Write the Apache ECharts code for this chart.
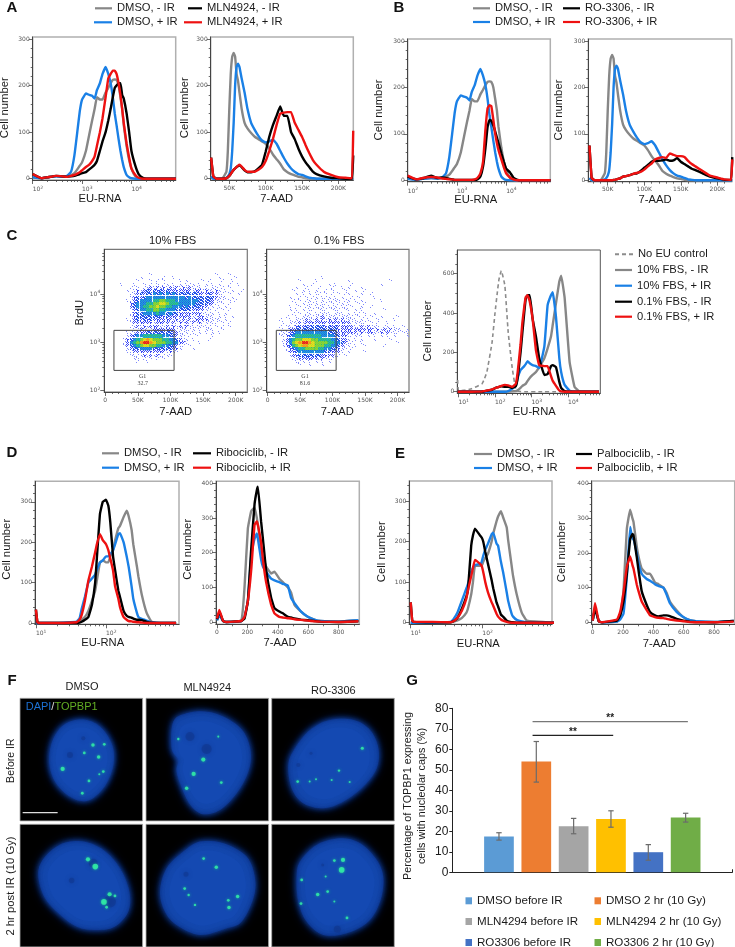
<!DOCTYPE html>
<html><head><meta charset="utf-8">
<style>html,body{margin:0;padding:0;background:#fff}#c{width:735px;height:947px}</style>
<script src="https://cdn.jsdelivr.net/npm/echarts@6/dist/echarts.min.js"></script>
</head><body><div id="c"></div>
<script>
// ---------- shared x values ----------
const euX = [100,150,200,300,400,500,600,700,800,900,1000,1200,1400,1600,1800,2000,2300,2600,3000,3400,3800,4200,4600,5000,5500,6000,6500,7000,8000,9000,10000,12000,14000,17000,20000,30000,80000];
const aadX = [25,28,32,40,46,48,50,52,54,56,58,60,62,64,67,71,75,80,85,90,95,100,105,110,115,120,125,130,135,140,145,150,155,160,165,170,180,190,200,210,217,219,220.5];
const euC = [9.5,10,14,23,44,50,60,83,100,115,128,149,186,230,296,370,417,500,560,630,690,780,890,1070,1320,1620,2240,2750,3400,3800,4660,5750,6450,8000,11000,15000,20000,70000];
const euD = [10,10.5,11,20,38,42,45,50,56,63,70,74,82,90,100,108,115,126,135,150,158,178,197,210,232,245,276,290,324,380,447,600,1000];
const euE = [10,10.5,11,20,36,40,45,52,60,63,70,74,79,93,98,103,110,120,135,142,158,166,182,195,219,229,257,269,302,355,420,1000];
const aadD = [0,15,40,60,160,181,203,225,247,262,269,290,302,323,356,378,410,433,466,487,509,553,597,640,680,800,930];

// ---------- panel A and B ----------
const euGrey = [3,1,3,5,4,5,8,12,20,28,35,60,95,125,150,175,170,170,185,195,205,212,213,212,200,175,150,115,70,40,22,5,1,0,0,0,0];
const euBlue = [3,1,3,5,4,6,15,50,100,145,170,183,180,178,172,190,205,225,240,225,205,175,140,115,85,60,40,25,8,3,1,0,0,0,0,0,0];
const aEuBlack = [10,1,3,6,5,4,5,6,8,10,12,14,20,25,30,38,60,80,100,125,150,175,195,200,205,205,180,172,140,100,60,28,10,2,0,0,0];
const aEuRed = [10,1,3,6,5,4,6,8,11,14,18,25,30,38,48,70,100,130,175,215,225,232,232,225,205,180,150,120,75,45,22,8,2,0,0,0,0];
const bEuBlack = [8,2,4,10,5,6,5,3,2,1,1,1,1,1,1,1,1,2,8,30,70,115,130,128,118,105,92,80,58,40,25,17,6,1,0,0,0];
const bEuRed = [10,2,5,7,6,4,3,2,2,1,1,1,1,1,1,1,2,5,15,40,110,155,162,160,130,100,80,65,45,28,15,6,2,0,0,0,0];
const aadGrey = [5,0,0,0,15,60,150,225,262,270,262,225,210,185,150,120,108,98,90,85,80,75,65,52,42,32,20,14,10,7,4,3,1,0,0,0,0,0,0,0,0,0,0];
const aadBlue = [5,0,0,0,2,5,10,22,60,120,200,240,247,240,215,185,150,120,105,92,82,78,80,84,75,60,45,32,22,15,10,8,5,2,1,0,0,0,0,0,0,0,0];
const aAadBlack = [45,5,0,0,1,3,6,10,15,19,22,25,27,28,25,18,14,14,16,22,30,58,90,115,135,155,135,135,100,85,65,48,35,25,15,10,5,2,1,0,0,0,50];
const aAadRed = [45,5,0,0,1,3,6,10,15,19,22,25,28,30,26,19,15,15,15,19,25,38,60,85,115,140,142,143,143,120,105,90,72,55,40,30,15,8,3,2,1,1,103];
const bAadBlack = [75,5,0,0,0,0,0,0,0,0,1,1,2,3,4,8,9,11,14,15,20,27,33,40,42,42,43,45,42,43,48,40,35,30,25,22,15,8,4,1,1,1,50];
const bAadRed = [75,5,0,0,0,0,0,0,0,0,1,1,2,3,4,8,9,11,14,16,18,23,30,36,45,48,50,48,58,55,52,52,50,42,35,30,20,10,6,2,1,1,45];

// ---------- panel C histogram ----------
const cNoEU = [60,5,7,15,40,60,100,250,400,500,570,615,540,300,120,10,4,1,0,0,0,0,0,0,0,0,0,0,0,0,0,0,0,0,0,0,0,0];
const cGrey = [0,0,0,0,0,0,0,0,0,0,0,0,0,1,2,3,8,20,30,35,40,55,70,85,100,125,170,220,280,340,450,560,590,480,150,25,3,0];
const cBlue = [0,0,0,0,0,0,0,0,0,0,0,0,0,3,15,30,70,110,120,130,140,155,145,135,130,120,230,440,490,505,380,170,100,35,5,1,0,0];
const cBlack = [0,0,0,0,1,2,5,10,18,22,25,27,25,25,20,28,70,200,300,400,470,490,490,370,280,170,85,90,130,135,125,50,20,3,0,0,0,0];
const cRed = [0,0,0,0,1,3,6,12,18,22,25,30,35,32,25,40,100,240,350,430,480,490,460,370,210,135,130,130,80,55,30,6,2,0,0,0,0,0];

// ---------- panel C pseudocolour density, digit = local density (one row per 1/15 decade of BrdU, one column per 5K of 7-AAD) ----------
const density10 = [
"00000000000000000000000000000000000000000000",
"00000000000000000000000000000000000000000000",
"00000000000000000000000000000000000000000000",
"00000000000000100000000000000000001000100000",
"00000000000100000010010000000000000100001000",
"00000000001000101010000101000010100010010000",
"00000100010010101011010101110101010100100100",
"00000000101011212121212121211101011010100000",
"00000001012123232323222222212212112101010010",
"00000000112323343434343333333222322110100100",
"00000000123234444444444443433333332111010000",
"00000001123444455665554444444333321110101000",
"00000000234445566776555444443333221010100000",
"00000000234455667665544434333322110101000000",
"00000000123445566554443333322221101010100000",
"00000000123344445443433222222211110101000000",
"00000000123333333323222222211221110101010000",
"00000001123232322222212121212222111101000000",
"00000000122222212222121212121211111010100000",
"00000000112121222112121212111111101010100000",
"00000000011211122222221111110101110010000000",
"00000001112223333333322111010101010100000000",
"00000001234455555544332110101000010000000000",
"00000012345678766655443211010000100000000000",
"00000012456899876665544221000100000000000000",
"00000012345677665544332110100000000000000000",
"00000001233444433333322100010000000000000000",
"00000001122222222221211000000000000000000000",
"00000000111121212111100000000000000000000000",
"00000000011010101010000000000000000000000000",
"00000000001001000000000000000000000000000000"];
const density01 = [
"00000000000000000000000000000000000000000000",
"00000000000000000000000000000000000000000000",
"00000000000000000000000000000000000000000000",
"00000000000000000000000000000000000000000000",
"00000000000000000100000000000000000000000000",
"00000000001000010000000001000000000000100000",
"00000000000100100001010000100000000100000000",
"00000000010010001000100101000100000000000000",
"00000000100101010010100010010010000000000000",
"00000000010101011010101011000100100000000000",
"00000001001010110111010100101000010000000000",
"00000000101011010101111011010100000100000000",
"00000000010101110110101101001010000000000000",
"00000001001011011101110110100100100000000000",
"00000001010101101110111011010100000010000000",
"00000000101011011111011101011010010000000000",
"00000010010111111211111111101010100100001000",
"00001001011121121212121211110101001000010000",
"00000101112122222222222222111110101001000000",
"00001011123232333323232222211212111011010010",
"00000112233333333333332222222222212121211101",
"00001112344444444443332222221212211212111011",
"00001123455555555444433221111101010101010001",
"00000124566777665555443221010100010000100000",
"00000124678998766665544321100100000000001000",
"00000123567887766655443211010010000010000000",
"00000012345566665544332110100000000000000000",
"00000012234444444433222101000010000000000000",
"00000001223333333222211010000000000000000000",
"00000000112222221211100000000000000000000000",
"00000000011101010101000000000000000000000000",
"00000000001001000100000000000000000000000000"];
const gateBox = [13.3, 263, 105.5, 1770];

// ---------- panel D ----------
const dEuGrey = [0,0,0,0,0,3,8,15,30,55,80,105,150,155,150,150,165,180,205,235,240,262,278,265,230,195,140,115,70,25,3,0,0];
const dEuBlue = [0,0,0,0,3,12,35,65,100,110,120,132,150,155,165,165,170,180,195,220,222,200,165,140,90,60,25,15,10,6,2,0,0];
const dEuBlack = [33,2,0,0,0,1,3,8,15,45,100,160,270,300,305,290,250,165,130,80,65,30,18,15,13,11,8,8,7,3,1,0,0];
const dEuRed = [33,2,0,0,2,8,20,55,105,140,175,195,220,205,195,180,160,130,90,60,40,15,8,5,4,3,2,2,1,0,0,0,0];
const dAadGrey = [5,20,3,0,5,100,270,320,330,300,280,215,190,160,140,145,125,115,100,85,50,30,15,7,3,1,5];
const dAadBlue = [5,20,3,0,2,15,60,190,240,255,240,180,160,145,125,120,115,110,105,70,55,30,15,7,3,1,5];
const dAadBlack = [8,30,3,0,3,10,60,210,340,380,390,290,240,150,70,40,30,25,15,13,10,7,5,3,1,0,2];
const dAadRed = [10,35,3,0,3,15,60,150,280,290,280,230,180,115,50,25,15,13,11,10,8,6,4,2,1,0,2];

// ---------- panel E ----------
const eEuGrey = [0,0,0,0,1,3,6,12,25,35,70,100,140,140,140,150,160,170,200,220,250,262,275,260,235,205,140,115,70,25,5,0];
const eEuBlue = [0,0,0,0,2,10,25,55,85,95,125,135,142,145,150,165,180,195,218,222,195,190,150,125,75,55,22,15,7,3,1,0];
const eEuBlack = [50,5,2,1,1,4,12,35,65,80,190,215,232,215,210,200,175,145,105,85,50,40,20,15,5,3,1,1,0,0,0,0];
const eEuRed = [50,5,2,2,1,4,12,30,60,80,115,135,155,145,140,125,100,75,50,42,22,15,8,5,2,1,0,0,0,0,0,0];
const eAadGrey = [5,40,3,0,2,15,90,270,325,300,290,220,190,155,140,140,115,110,100,85,60,35,15,6,3,1,4];
const eAadBlue = [5,40,3,0,2,8,25,130,275,240,240,200,170,140,125,120,110,105,100,80,55,30,15,6,3,1,4];
const eAadBlack = [5,40,3,0,5,20,60,140,240,255,250,190,150,90,50,30,20,17,20,20,18,10,5,2,1,0,4];
const eAadRed = [5,55,3,0,8,30,85,160,190,165,155,110,90,60,35,20,15,13,12,10,8,5,3,1,0,0,2];

// ---------- panel G ----------
const capNames = ['DMSO before IR','DMSO 2 hr (10 Gy)','MLN4294 before IR','MLN4294 2 hr (10 Gy)','RO3306 before IR','RO3306 2 hr (10 Gy)'];
const capValues = [17.5,54,22.5,26,9.8,26.7];
const capLow = [15.7,44,18.8,22,5.9,24.5];
const capHigh = [19.3,63.8,26.3,30,13.5,28.8];
const capColors = ['#5b9bd5','#ed7d31','#a5a5a5','#ffc000','#4472c4','#70ad47'];
const capBrackets = [[2.15,4.31,66.8,'#222'],[2.15,6.31,73.5,'#777']];

// ---------- panel F: nucleus outlines, foci and nucleoli in image units (0-368) ----------
const imgNuclei = [
 [[155,68],[200,65],[240,85],[270,125],[282,170],[275,220],[250,270],[210,305],[170,305],[130,280],[100,240],[88,190],[95,135],[120,90]],
 [[82,70],[122,45],[182,40],[242,60],[292,100],[314,160],[307,220],[272,285],[222,335],[172,348],[137,325],[112,280],[92,220],[97,185],[77,150]],
 [[50,200],[70,150],[115,95],[175,65],[245,65],[295,95],[320,150],[315,210],[275,265],[215,310],[155,330],[95,315],[60,270]],
 [[55,142],[80,92],[130,57],[190,52],[250,77],[300,132],[328,202],[325,262],[285,307],[230,317],[170,307],[110,262],[70,212]],
 [[42,202],[62,132],[112,82],[162,52],[232,57],[302,97],[327,162],[322,222],[287,292],[242,312],[162,332],[92,302],[57,262]],
 [[75,162],[85,112],[135,62],[205,42],[265,57],[315,107],[335,162],[325,232],[290,292],[225,327],[155,332],[105,292],[80,232]]];
const imgFoci = [
 [[219,140,4],[253,138,3],[193,164,3],[236,176,4],[128,212,5],[250,220,3],[238,228,2],[207,248,3],[187,285,3]],
 [[97,122,2.5],[217,115,2],[172,184,5],[143,227,5],[122,270,4],[226,253,3]],
 [[272,150,3.5],[202,217,2.5],[78,250,3],[114,250,2],[133,243,2],[180,245,2],[234,251,2]],
 [[204,105,5],[226,127,7],[269,210,5],[285,215,3],[252,233,7],[260,249,3]],
 [[173,103,3],[211,129,4],[116,193,3],[128,212,2.5],[147,242,2.5],[247,228,3],[275,217,4],[249,250,4]],
 [[188,109,3],[214,107,5],[210,137,7],[90,167,3],[162,157,2],[138,211,4],[168,202,3],[88,238,3],[188,232,2],[226,281,3]]];
const imgHoles = [
 [[150,170,12],[190,120,8]],
 [[182,152,20],[132,115,18]],
 [[118,165,6],[80,200,8]],
 [[220,117,18],[270,232,24],[155,169,11]],
 [[120,150,10]],
 [[153,122,6],[197,315,14]]];

// ---------- tick lists ----------
const kMajor=[50,100,150,200], kMinor=[30,40,60,70,80,90,110,120,130,140,160,170,180,190,210];
const kMajor0=[0,50,100,150,200], kMinor0=[10,20,30,40,60,70,80,90,110,120,130,140,160,170,180,190,210];
const logMinors=[20,30,40,50,60,70,80,90,200,300,400,500,600,700,800,900,2000,3000,4000,5000,6000,7000,8000,9000,20000,30000,40000,50000,60000,70000];
const GREY='#878787',BLUE='#1a80e6',BLACK='#000',RED='#ee1111';
const FF='"Liberation Sans",Arial,sans-serif', TF='"DejaVu Sans",sans-serif';

const grids=[],xAxes=[],yAxes=[],series=[],legends=[],graphics=[];
const kFmt=v=>v===0?'0':v+'K';
const supRich={a:{fontSize:6,color:'#555',fontFamily:TF},s:{fontSize:4.5,color:'#555',fontFamily:TF,padding:[0,0,4,0]}};
const pow10Fmt=v=>'{a|10}{s|'+Math.round(Math.log10(v))+'}';

function addPlot(b,xc,yc,border,borderW){
  const gi=grids.length;
  grids.push({show:true,left:b[0],top:b[2],width:b[1]-b[0],height:b[3]-b[2],borderColor:border||'#b0b0b0',borderWidth:borderW||1.5,backgroundColor:'transparent'});
  const lineCol='#444';
  const ax=(c,labels)=>({
    gridIndex:gi,type:c.type||'value',min:c.min,max:c.max,scale:true,silent:true,
    axisLine:{show:labels,onZero:false,lineStyle:{color:lineCol,width:1}},
    splitLine:{show:false},minorSplitLine:{show:false},
    axisTick:{show:true,inside:false,length:labels?4:2,customValues:labels?c.major:c.minor,lineStyle:{color:lineCol,width:.8}},
    axisLabel:labels?{show:true,customValues:c.major,hideOverlap:false,showMinLabel:true,showMaxLabel:true,fontSize:6,color:'#555',fontFamily:TF,margin:c.margin||3,align:c.align,formatter:c.fmt,rich:supRich}:{show:false}
  });
  const xi=xAxes.length,yi=yAxes.length;
  xAxes.push(Object.assign(ax(xc,true),{position:'bottom'}),Object.assign(ax(xc,false),{position:'bottom'}));
  yAxes.push(Object.assign(ax(yc,true),{position:'left'}),Object.assign(ax(yc,false),{position:'left'}));
  return {xi,yi};
}
function addLines(ax,xs,curves){
  curves.forEach(c=>{
    series.push({type:'line',name:c[0],xAxisIndex:ax.xi,yAxisIndex:ax.yi,symbol:'none',showSymbol:false,smooth:.1,clip:true,z:3,
      itemStyle:{color:c[1]},lineStyle:{color:c[1],width:c[3]?1.6:2.4,type:c[3]||'solid'},
      data:xs.map((x,i)=>[x,c[2][i]])});
  });
}
function yCfg(min,max,major,step){
  const minor=[];for(let v=step;v<max;v+=step){if(!major.includes(v))minor.push(v);}
  return {min,max,major,minor,margin:3,fmt:v=>String(v)};
}
function logX(min,max,major){return {type:'log',min,max,major,minor:logMinors,fmt:pow10Fmt,align:'left',margin:5};}
function kX(min,max){return {min,max,major:kMajor,minor:kMinor,fmt:kFmt,margin:5};}
const dashIcon='path://M0,0h4v2h-4zM7,0h4v2h-4zM14,0h4v2h-4z';
function leg(name,left,y,w,icon){
  legends.push({show:true,selectedMode:false,left,top:y-6.5,padding:0,itemWidth:w,itemHeight:2.2,icon:icon||'rect',data:[name],
    textStyle:{fontSize:11.2,color:'#1a1a1a',fontFamily:FF,lineHeight:13}});
}
function txt(text,x,y,o){
  o=o||{};
  graphics.push({type:'text',x,y,rotation:o.rot?Math.PI/2:0,silent:true,z:50,style:{text,align:o.align||'center',verticalAlign:'middle',
    fontSize:o.size||11.5,fontFamily:o.font||FF,fontWeight:o.weight||'normal',fill:o.color||'#1a1a1a',rich:o.rich}});
}
const cell='Cell number';

// Panel A
const mA=['MLN4924, - IR','MLN4924, + IR'];
let p=addPlot([32.7,175.7,37,180],logX(100,79000,[100,1000,10000]),yCfg(-2.8,304.3,[0,100,200,300],20));
addLines(p,euX,[['DMSO, - IR',GREY,euGrey],['DMSO, + IR',BLUE,euBlue],[mA[0],BLACK,aEuBlack],[mA[1],RED,aEuRed]]);
p=addPlot([210.7,353.3,37,180],kX(24.4,220.6),yCfg(-2.8,304.3,[0,100,200,300],20));
addLines(p,aadX,[['DMSO, - IR',GREY,aadGrey],['DMSO, + IR',BLUE,aadBlue],[mA[0],BLACK,aAadBlack],[mA[1],RED,aAadRed]]);
leg('DMSO, - IR',95,8.3,17);leg('DMSO, + IR',94,22.3,18);leg(mA[0],188,8.3,14);leg(mA[1],184,22.3,18);
// Panel B
const mB=['RO-3306, - IR','RO-3306, + IR'];
p=addPlot([407.7,550.3,39,181.7],logX(100,79000,[100,1000,10000]),yCfg(-3,304.3,[0,100,200,300],20));
addLines(p,euX,[['DMSO, - IR',GREY,euGrey],['DMSO, + IR',BLUE,euBlue],[mB[0],BLACK,bEuBlack],[mB[1],RED,bEuRed]]);
p=addPlot([588.3,731.7,39,181.7],kX(23.4,219.7),yCfg(-3,304.3,[0,100,200,300],20));
addLines(p,aadX,[['DMSO, - IR',GREY,aadGrey],['DMSO, + IR',BLUE,aadBlue],[mB[0],BLACK,bAadBlack],[mB[1],RED,bAadRed]]);
leg('DMSO, - IR',473,8.3,17);leg('DMSO, + IR',473,22,17);leg(mB[0],563,8.3,17);leg(mB[1],563,22,17);

// Panel C density plots: each digit cell is stippled with a fixed mask; high digits are a mix with the digit below
const densCol=[null,'#7f88fb','#3a46f5','#2452ea','#20a8d8','#30c070','#93d42e','#e9dc1e','#f29422','#e81f1f'];
const stipple={
 1:[[[0,0],[2,1]],[[1,2],[0,0]],[[2,0],[0,2]],[[1,1],[2,2]]],
 2:[[[0,0],[2,0],[1,1],[0,2]],[[1,0],[0,1],[2,1],[1,2]],[[0,0],[1,1],[2,1],[1,2]]],
 3:[[[0,0],[2,0],[0,1],[1,1],[1,2],[2,2]],[[1,0],[2,0],[0,1],[2,1],[0,2],[1,2]]]
};
const mix=[[0,0],[2,0],[1,1],[0,2],[2,2]], mix2=[[1,0],[0,1],[2,1],[1,2]];
function densitySeries(ax,rows){
  const data=[];
  rows.forEach((row,r)=>{const lc=4.6-r/15;
    for(let c=0;c<row.length;c++){const d=+row[c];
      if(d>0)data.push([c*5-2.5,Math.pow(10,lc+1/30),c*5+2.5,Math.pow(10,lc-1/30),d,r,c]);}
  });
  series.push({type:'custom',xAxisIndex:ax.xi,yAxisIndex:ax.yi,clip:true,silent:true,progressive:0,z:2,
    encode:{x:[0,2],y:[1,3]},data,
    renderItem(params,api){
      const a=api.coord([api.value(0),api.value(1)]),b=api.coord([api.value(2),api.value(3)]);
      const d=api.value(4),x0=Math.round(a[0]),y0=Math.round(a[1]);
      if(d>=4){
        const m=(api.value(5)+api.value(6))%2?mix:mix2;
        return {type:'group',children:[
          {type:'rect',shape:{x:x0,y:y0,width:d===4?3:4,height:d===4?3:4},style:{fill:densCol[d-1]}},
          ...m.map(q=>({type:'rect',shape:{x:x0+q[0],y:y0+q[1],width:d>=6?1.6:1.2,height:d>=6?1.6:1.2},style:{fill:densCol[d]}}))]};
      }
      const set=stipple[d],m=set[(api.value(5)*2+api.value(6))%set.length];
      return {type:'group',children:m.map(q=>({type:'rect',shape:{x:x0+q[0],y:y0+q[1],width:1,height:1},style:{fill:densCol[d]}}))};
    }});
  series.push({type:'custom',xAxisIndex:ax.xi,yAxisIndex:ax.yi,silent:true,z:4,encode:{x:[0,2],y:[1,3]},data:[gateBox],
    renderItem(params,api){
      const a=api.coord([api.value(0),api.value(1)]),b=api.coord([api.value(2),api.value(3)]);
      return {type:'rect',shape:{x:a[0],y:b[1],width:b[0]-a[0],height:a[1]-b[1]},style:{fill:'none',stroke:'#444',lineWidth:1}};
    }});
}
const cY={type:'log',min:94,max:84000,major:[100,1000,10000],minor:logMinors,fmt:pow10Fmt,margin:4};
const cX={min:-1.5,max:217.8,major:kMajor0,minor:kMinor0,fmt:kFmt,margin:5};
p=addPlot([104.3,247.3,249.3,392],cX,cY,'#777',1.2);densitySeries(p,density10);
p=addPlot([266.7,409,249.3,392],cX,cY,'#777',1.2);densitySeries(p,density01);
// Panel C histogram
const fbs=['No EU control','10% FBS, - IR','10% FBS, + IR','0.1% FBS, - IR','0.1% FBS, + IR'];
p=addPlot([457.3,600.3,250,393.3],logX(9.3,76000,[10,100,1000,10000]),yCfg(-8,720,[0,200,400,600],50),'#555',1);
addLines(p,euC,[[fbs[0],'#8c8c8c',cNoEU,[4,3]],[fbs[1],GREY,cGrey],[fbs[2],BLUE,cBlue],[fbs[3],BLACK,cBlack],[fbs[4],RED,cRed]]);
leg(fbs[0],615,254.3,18,dashIcon);leg(fbs[1],615,270,17);leg(fbs[2],615,285.7,17);leg(fbs[3],615,301.7,17);leg(fbs[4],615,316.7,17);

// Panel D
const mD=['Ribociclib, - IR','Ribociclib, + IR'];
const aX800={min:-6.6,max:936,major:[0,200,400,600,800],minor:[100,300,500,700,900],fmt:v=>String(v),margin:5};
p=addPlot([35,179,481.3,624.3],logX(9.7,1100,[10,100]),yCfg(-3.2,350.7,[0,100,200,300],20));
addLines(p,euD,[['DMSO, - IR',GREY,dEuGrey],['DMSO, + IR',BLUE,dEuBlue],[mD[0],BLACK,dEuBlack],[mD[1],RED,dEuRed]]);
p=addPlot([216,359.3,481.3,624.3],aX800,yCfg(-6.6,405.7,[0,100,200,300,400],20));
addLines(p,aadD,[['DMSO, - IR',GREY,dAadGrey],['DMSO, + IR',BLUE,dAadBlue],[mD[0],BLACK,dAadBlack],[mD[1],RED,dAadRed]]);
leg('DMSO, - IR',102,453.3,17);leg('DMSO, + IR',102,467.7,17);leg(mD[0],193,453.3,18);leg(mD[1],193,467.7,18);
// Panel E
const mE=['Palbociclib, - IR','Palbociclib, + IR'];
p=addPlot([409.3,552,481,624.3],logX(9.56,940,[10,100]),yCfg(-3.9,349.3,[0,100,200,300],20));
addLines(p,euE,[['DMSO, - IR',GREY,eEuGrey],['DMSO, + IR',BLUE,eEuBlue],[mE[0],BLACK,eEuBlack],[mE[1],RED,eEuRed]]);
p=addPlot([591.7,734.7,481,624.3],aX800,yCfg(-5.8,407.8,[0,100,200,300,400],20));
addLines(p,aadD,[['DMSO, - IR',GREY,eAadGrey],['DMSO, + IR',BLUE,eAadBlue],[mE[0],BLACK,eAadBlack],[mE[1],RED,eAadRed]]);
leg('DMSO, - IR',474,454,18);leg('DMSO, + IR',474,468,18);leg(mE[0],576,454,16);leg(mE[1],576,468,16);

// Panel F images: outline is rounded with a closed Catmull-Rom spline and drawn in soft layers
function roundOutline(pts,scale){
  const n=pts.length,cx=pts.reduce((s,q)=>s+q[0],0)/n,cy=pts.reduce((s,q)=>s+q[1],0)/n,out=[];
  const P=pts.map(q=>[cx+(q[0]-cx)*scale,cy+(q[1]-cy)*scale]);
  for(let i=0;i<n;i++){
    const a=P[(i+n-1)%n],b=P[i],c=P[(i+1)%n],d=P[(i+2)%n];
    for(let k=0;k<8;k++){const t=k/8,t2=t*t,t3=t2*t;
      const f=j=>.5*(2*b[j]+(c[j]-a[j])*t+(2*a[j]-5*b[j]+4*c[j]-d[j])*t2+(3*b[j]-a[j]-3*c[j]+d[j])*t3);
      out.push([f(0),f(1)]);}
  }
  return out;
}
const nucleusLayers=[[1,'#0f3486',10],[.975,'#113c96',7],[.95,'#1242a2',6],[.9,'#1346aa',6],[.8,'#1449b2',8]];
const imgX=[20,146,271.7], imgY=[698.3,824.3];
imgNuclei.forEach((outline,i)=>{
  const gi=grids.length,col=i%3,row=Math.floor(i/3);
  grids.push({show:true,left:imgX[col],top:imgY[row],width:122.6,height:122.6,backgroundColor:'#000',borderColor:'#aaa',borderWidth:.8});
  xAxes.push({gridIndex:gi,type:'value',min:0,max:368,show:false});
  yAxes.push({gridIndex:gi,type:'value',min:0,max:368,inverse:true,show:false});
  series.push({type:'custom',xAxisIndex:xAxes.length-1,yAxisIndex:yAxes.length-1,silent:true,clip:true,z:2,encode:{x:0,y:1},data:outline,
    renderItem(params,api){
      if(params.dataIndex!==0)return null;
      return {type:'group',children:nucleusLayers.map(l=>({type:'polygon',shape:{points:roundOutline(outline,l[0]).map(q=>api.coord(q))},
        style:{fill:l[1],shadowBlur:l[2],shadowColor:l[1]}}))};
    }});
  series.push({type:'scatter',xAxisIndex:xAxes.length-1,yAxisIndex:yAxes.length-1,silent:true,z:3,symbol:'circle',
    symbolSize:d=>d[2]*.5,itemStyle:{color:'#0f3288',opacity:.45,shadowBlur:4,shadowColor:'#0f3288'},data:imgHoles[i]});
  series.push({type:'scatter',xAxisIndex:xAxes.length-1,yAxisIndex:yAxes.length-1,silent:true,z:4,symbol:'circle',
    symbolSize:d=>d[2]*.72+.6,itemStyle:{color:'#35f5a8',shadowBlur:3,shadowColor:'#1fd890'},data:imgFoci[i]});
  if(i===0){
    series.push({type:'custom',xAxisIndex:xAxes.length-1,yAxisIndex:yAxes.length-1,silent:true,z:5,encode:{x:0,y:1},data:[[8,343,113]],
      renderItem(params,api){const a=api.coord([api.value(0),api.value(1)]),b=api.coord([api.value(2),api.value(1)]);
        return {type:'line',shape:{x1:a[0],y1:a[1],x2:b[0],y2:b[1]},style:{stroke:'#ddd',lineWidth:1.2}};}});
  }
});

// Panel G
(function(){
  const gi=grids.length;
  grids.push({show:false,left:452.3,top:708.3,width:280,height:164});
  xAxes.push({gridIndex:gi,type:'value',min:0,max:7.5,axisLine:{lineStyle:{color:'#222',width:1.2}},splitLine:{show:false},
    axisTick:{show:true,inside:true,length:3,customValues:[0,7.5],lineStyle:{color:'#222'}},axisLabel:{show:false}});
  yAxes.push({gridIndex:gi,type:'value',min:0,max:80,interval:10,axisLine:{show:true,lineStyle:{color:'#222',width:1}},splitLine:{show:false},
    axisTick:{show:true,length:3,lineStyle:{color:'#222'}},axisLabel:{fontSize:12,color:'#1a1a1a',fontFamily:FF,margin:4}});
  const xi=xAxes.length-1,yi=yAxes.length-1;
  capNames.forEach((n,i)=>{
    series.push({type:'bar',name:n,xAxisIndex:xi,yAxisIndex:yi,barWidth:29.7,barGap:'-100%',itemStyle:{color:capColors[i]},data:[[1.25+i,capValues[i]]]});
  });
  series.push({type:'custom',xAxisIndex:xi,yAxisIndex:yi,silent:true,z:6,encode:{x:0,y:[1,2]},
    data:capLow.map((l,i)=>[1.25+i,l,capHigh[i]]),
    renderItem(params,api){
      const lo=api.coord([api.value(0),api.value(1)]),hi=api.coord([api.value(0),api.value(2)]);
      const st={stroke:'#6b6b6b',lineWidth:1.2};
      return {type:'group',children:[
        {type:'line',shape:{x1:lo[0],y1:lo[1],x2:hi[0],y2:hi[1]},style:st},
        {type:'line',shape:{x1:lo[0]-2.7,y1:lo[1],x2:lo[0]+2.7,y2:lo[1]},style:st},
        {type:'line',shape:{x1:hi[0]-2.7,y1:hi[1],x2:hi[0]+2.7,y2:hi[1]},style:st}]};
    }});
  series.push({type:'custom',xAxisIndex:xi,yAxisIndex:yi,silent:true,z:6,encode:{x:[0,1],y:2},
    data:capBrackets,
    renderItem(params,api){
      const a=api.coord([api.value(0),api.value(2)]),b=api.coord([api.value(1),api.value(2)]);
      const c=capBrackets[params.dataIndex][3];
      return {type:'group',children:[
        {type:'line',shape:{x1:a[0],y1:a[1],x2:b[0],y2:b[1]},style:{stroke:c,lineWidth:1.2}},
        {type:'text',style:{x:(a[0]+b[0])/2,y:a[1]-3,text:'**',align:'center',verticalAlign:'middle',fontSize:10,fontWeight:'bold',fontFamily:FF,fill:'#222'}}]};
    }});
  const lx=[465.5,594.5],ly=[898.3,919,940];
  capNames.forEach((n,i)=>{
    legends.push({show:true,selectedMode:false,left:lx[i%2],top:ly[Math.floor(i/2)]-3.5,padding:0,itemWidth:6.5,itemHeight:7,icon:'rect',data:[n],
      textStyle:{fontSize:11.6,color:'#1a1a1a',fontFamily:FF,lineHeight:7}});
  });
})();

// Text
[['A',12,8],['B',399,8],['C',12,236],['D',12,453],['E',400,454],['F',12,681],['G',412,681]].forEach(a=>txt(a[0],a[1],a[2],{size:15,weight:'bold',color:'#111'}));
[[5,107.7],[185,107.7],[379.3,110],[559.3,110],[428.3,331],[7.3,549.3],[187.7,549.3],[382.3,551.7],[562.3,551.7]].forEach(a=>txt(cell,a[0],a[1],{rot:1,size:11.3}));
[[100,199],[475.7,200],[534.3,411.7],[102.7,643.3],[478.3,644.3]].forEach(a=>txt('EU-RNA',a[0],a[1],{size:11.2}));
[[276.7,199],[655,200],[175.7,411.7],[337.3,411.7],[280,643.3],[659.3,644.3]].forEach(a=>txt('7-AAD',a[0],a[1],{size:11.2}));
txt('BrdU',80.3,312.7,{rot:1,size:11.2});
txt('10% FBS',172.7,240.7,{size:11.2});txt('0.1% FBS',339.3,240.7,{size:11.2});
[['G1',142.7,376],['32.7',142.7,383.7],['G1',305,376],['81.6',305,383.7]].forEach(a=>txt(a[0],a[1],a[2],{size:6,font:'"Liberation Serif",serif',color:'#444'}));
txt('DMSO',82,686.7,{size:11});txt('MLN4924',207.3,687.7,{size:11});txt('RO-3306',333.3,690.7,{size:11});
txt('Before IR',11,760.7,{rot:1,size:10.5});txt('2 hr post IR (10 Gy)',11,886,{rot:1,size:11.3});
graphics.push({type:'text',x:25.7,y:707.3,silent:true,z:50,style:{text:'{b|DAPI}{w|/}{g|TOPBP1}',verticalAlign:'middle',fontSize:11,fontFamily:FF,
  rich:{b:{fontSize:11,fontFamily:FF,fill:'#1c72d6',color:'#1c72d6'},w:{fontSize:11,fontFamily:FF,fill:'#ddd',color:'#ddd'},g:{fontSize:11,fontFamily:FF,fill:'#62ad24',color:'#62ad24'}}}});
txt('Percentage of TOPBP1 expressing',407.7,796,{rot:1,size:10.8});
txt('cells with nucleolar caps (%)',422.3,796,{rot:1,size:10.8});

const chart=echarts.init(document.getElementById('c'),null,{renderer:'canvas'});
chart.setOption({animation:false,backgroundColor:'#fff',tooltip:{show:false},grid:grids,xAxis:xAxes,yAxis:yAxes,series,legend:legends,graphic:{elements:graphics}});
</script></body></html>
